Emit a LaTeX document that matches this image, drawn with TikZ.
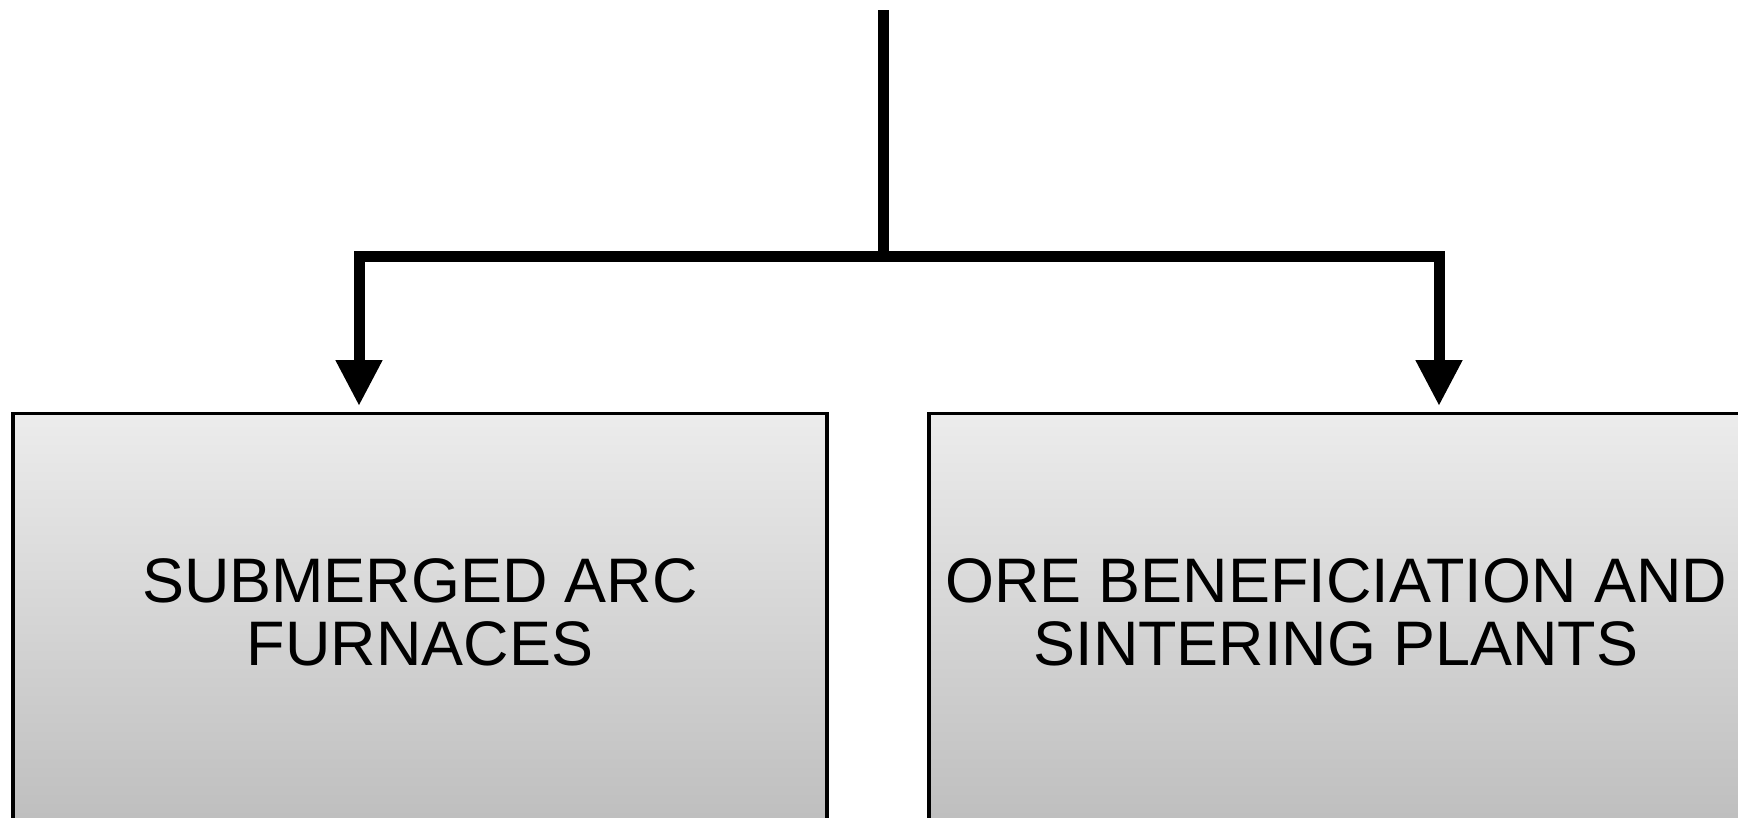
\documentclass[tikz,border=0pt]{standalone}
\usepackage{fontspec}
\setmainfont{Liberation Sans}
\usetikzlibrary{arrows.meta, calc, positioning}
\definecolor{boxtop}{RGB}{236, 236, 236}
\definecolor{boxbottom}{RGB}{188, 188, 188}

\tikzset{
    plantbox/.style={draw=black, line width=0.9pt, top color=boxtop, bottom color=boxbottom,
        minimum width=8.14cm, minimum height=4.3cm, anchor=north, inner sep=0pt},
    plantlabel/.style={align=center, font=\fontsize{17.9}{17.9}\selectfont, inner sep=0pt},
    feedline/.style={line width=0.11cm, line cap=butt, line join=miter}
}

\begin{document}
\begin{tikzpicture}[>={Triangle[width=0.44cm, length=0.46cm]}]
    \useasboundingbox (0,0) rectangle (17.38,-8.17);
    \clip (0,0) rectangle (17.38,-8.17);

    \coordinate (feed) at (8.83,-0.10);
    \coordinate (split) at (8.83,-2.565);

    \node[plantbox] (furnaces) at (4.20,-4.12) {};
    \node[plantbox] (sintering) at (13.36,-4.12) {};

    \node[plantlabel] (furnacestext) at ([yshift=-2.00cm]furnaces.north) {SUBMERGED ARC\\FURNACES};
    \node[plantlabel] (sinteringtext) at ([yshift=-2.00cm]sintering.north) {ORE BENEFICIATION AND\\SINTERING PLANTS};

    \draw [feedline] (feed) -- (split);
    \draw [feedline,->,shorten >=0.06cm] (split) -| ([xshift=-0.61cm]furnaces.north);
    \draw [feedline,->,shorten >=0.06cm] (split) -| ([xshift=1.03cm]sintering.north);
\end{tikzpicture}
\end{document}
